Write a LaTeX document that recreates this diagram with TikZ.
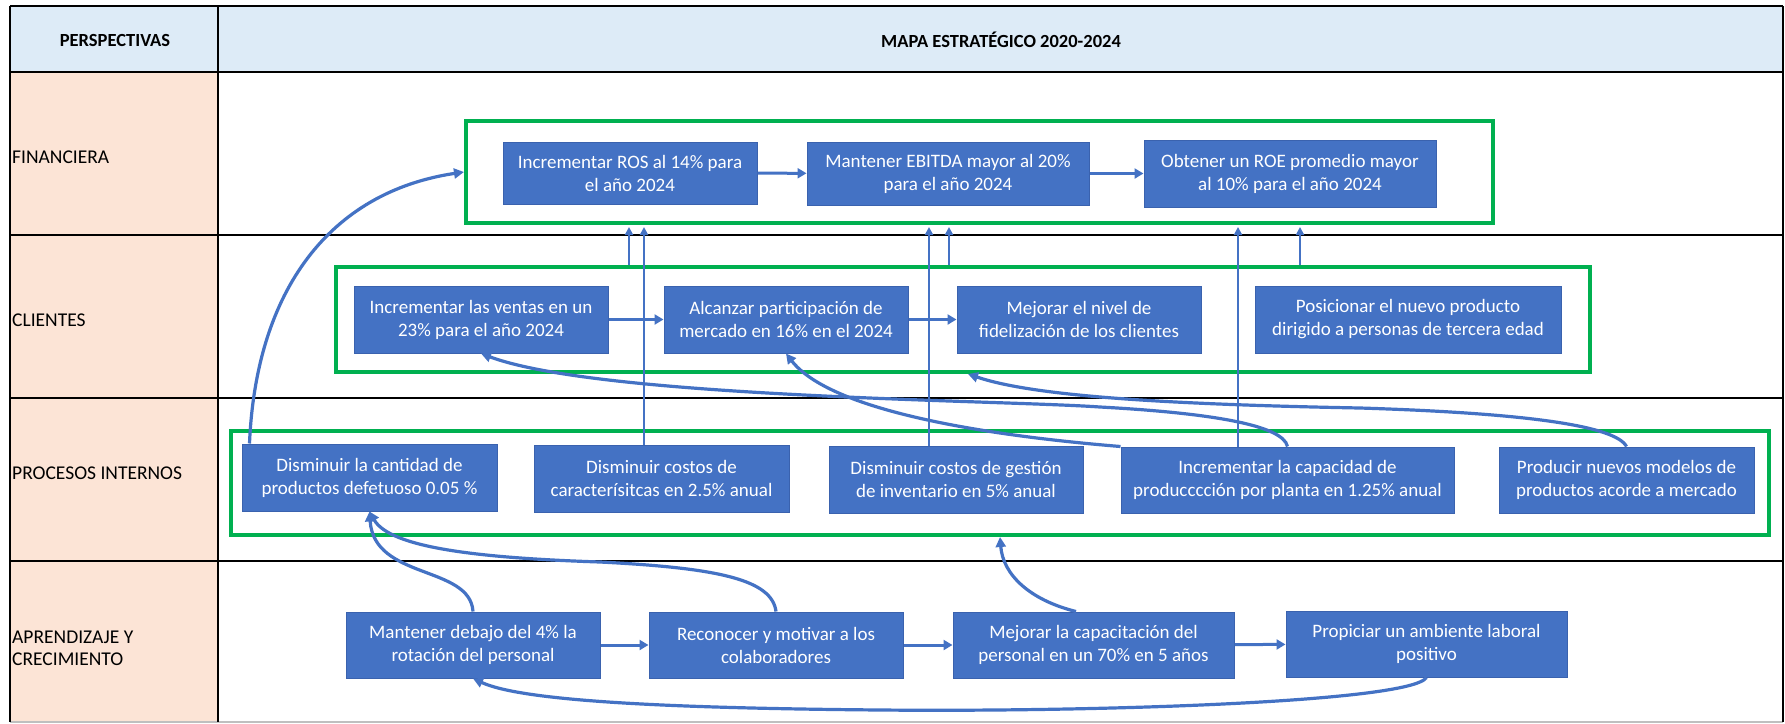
\documentclass[tikz,border=0pt]{standalone}
\usepackage{fontspec}
\setmainfont{Carlito}
\usetikzlibrary{arrows.meta,calc}
\definecolor{hdr}{HTML}{DDEBF7}
\definecolor{lft}{HTML}{FCE4D6}
\definecolor{bfill}{HTML}{4472C4}
\definecolor{bdraw}{HTML}{3A62AE}
\definecolor{grn}{HTML}{00B050}
\definecolor{ln}{HTML}{4472C4}
\begin{document}
\begin{tikzpicture}[x=1pt,y=-1pt,
  box/.style={draw=bdraw, line width=1pt, fill=bfill, text=white, align=center, inner sep=0pt, font=\fontsize{19}{23}\selectfont},
  cluster/.style={draw=grn, line width=4pt, inner sep=0pt},
  lab/.style={anchor=west, align=left, font=\fontsize{19.5}{22}\selectfont, inner sep=0pt},
  hd/.style={font=\bfseries\fontsize{18.5}{22}\selectfont, inner sep=0pt},
  arr/.style={draw=ln, line width=3.2pt, -{Triangle[length=10pt,width=10pt]}},
  harr/.style={draw=ln, line width=3pt, -{Triangle[length=9pt,width=10pt]}},
  varr/.style={draw=ln, line width=2.4pt, -{Triangle[length=8pt,width=8pt]}, shorten >=2pt},
  tline/.style={draw=black, line width=2.2pt},
]
\useasboundingbox (0,0) rectangle (1785,723);
% table
\fill[white] (0,0) rectangle (1785,723);
\fill[hdr] (10,6) rectangle (1783,72);
\fill[lft] (10,72) rectangle (218,722);
\draw[tline] (10,6) -- (1783,6);
\draw[tline, line width=2.8pt] (10,72) -- (1783,72);
\draw[tline] (10,235) -- (1783,235);
\draw[tline] (10,398) -- (1783,398);
\draw[tline] (10,561) -- (1783,561);
\draw[draw=black!25, line width=2pt] (10,722) -- (1783,722);
\draw[tline] (10,6) -- (10,722);
\draw[tline] (218,6) -- (218,722);
\draw[tline] (1783,6) -- (1783,722);
% headers and labels
\node[hd] (hP) at (115,40) {PERSPECTIVAS};
\node[hd] (hM) at (1001,40) {MAPA ESTRATÉGICO 2020-2024};
\node[lab] (lF) at (12,157) {FINANCIERA};
\node[lab] (lC) at (12,320) {CLIENTES};
\node[lab] (lP) at (12,473) {PROCESOS INTERNOS};
\node[lab] (lA) at (12,648) {APRENDIZAJE Y\\CRECIMIENTO};
% clusters
\node[cluster, minimum width=1027pt, minimum height=102pt] (finc) at (979.5,172) {};
\node[cluster, minimum width=1254pt, minimum height=105pt] (clic) at (963,319.5) {};
\node[cluster, minimum width=1538pt, minimum height=104pt] (proc) at (1000,483) {};
% financiera
\node[box, minimum width=254pt, minimum height=62pt] (F1) at (630,173) {Incrementar ROS al 14\% para\\el año 2024};
\node[box, minimum width=282pt, minimum height=63pt] (F2) at (948,173.5) {Mantener EBITDA mayor al 20\%\\para el año 2024};
\node[box, minimum width=292pt, minimum height=67pt] (F3) at (1290,173.5) {Obtener un ROE promedio mayor\\al 10\% para el año 2024};
% clientes
\node[box, minimum width=254pt, minimum height=67pt] (C1) at (481,319.5) {Incrementar las ventas en un\\23\% para el año 2024};
\node[box, minimum width=244pt, minimum height=67pt] (C2) at (786,319.5) {Alcanzar participación de\\mercado en 16\% en el 2024};
\node[box, minimum width=244pt, minimum height=67pt] (C3) at (1079,319.5) {Mejorar el nivel de\\fidelización de los clientes};
\node[box, minimum width=306pt, minimum height=67pt] (C4) at (1408,319.5) {Posicionar el nuevo producto\\dirigido a personas de tercera edad};
% procesos
\node[box, minimum width=255pt, minimum height=67pt] (P1) at (369.5,477.5) {Disminuir la cantidad de\\productos defetuoso 0.05 \%};
\node[box, minimum width=255pt, minimum height=67pt] (P2) at (661.5,478.5) {Disminuir costos de\\caracterísitcas en 2.5\% anual};
\node[box, minimum width=254pt, minimum height=67pt] (P3) at (956,479.5) {Disminuir costos de gestión\\de inventario en 5\% anual};
\node[box, minimum width=333pt, minimum height=66pt] (P4) at (1287.5,480) {Incrementar la capacidad de\\producccción por planta en 1.25\% anual};
\node[box, minimum width=255pt, minimum height=66pt] (P5) at (1626.5,480) {Producir nuevos modelos de\\productos acorde a mercado};
% aprendizaje
\node[box, minimum width=254pt, minimum height=66pt] (A1) at (473,645) {Mantener debajo del 4\% la\\rotación del personal};
\node[box, minimum width=254pt, minimum height=66pt] (A2) at (776,645) {Reconocer y motivar a los\\colaboradores};
\node[box, minimum width=281pt, minimum height=66pt] (A3) at (1093.5,645) {Mejorar la capacitación del\\personal en un 70\% en 5 años};
\node[box, minimum width=281pt, minimum height=66pt] (A4) at (1426.5,644) {Propiciar un ambiente laboral\\positivo};
% horizontal arrows
\draw[harr] (F1) -- (F2);
\draw[harr] (F2) -- (F3);
\draw[harr] (C1) -- (C2);
\draw[harr] (C2) -- (C3);
\draw[harr] (A1) -- (A2);
\draw[harr] (A2) -- (A3);
\draw[harr] (A3) -- (A4);
% vertical arrows to financiera cluster
\path (clic.north) ++(-334,0) coordinate (v1);
\path (P2.north) ++(-17.5,0) coordinate (v2);
\path (P3.north) ++(-27,0) coordinate (v3);
\path (clic.north) ++(-14,0) coordinate (v4);
\path (P4.north) ++(-49.5,0) coordinate (v5);
\path (clic.north) ++(337,0) coordinate (v6);
\draw[varr] (v1) -- (v1 |- finc.south);
\draw[varr] (v2) -- (v2 |- finc.south);
\draw[varr] (v3) -- (v3 |- finc.south);
\draw[varr] (v4) -- (v4 |- finc.south);
\draw[varr] (v5) -- (v5 |- finc.south);
\draw[varr] (v6) -- (v6 |- finc.south);
% curved connectors
\path (P1.north west) ++(8,0) coordinate (p1s);
\draw[arr] (p1s) .. controls (256,290) and (330,192) .. (finc.west);
\draw[arr] (P4.north) .. controls (1283,425) and (1210,413) .. (1100,407) .. controls (1000,400) and (600,398) .. (C1.south);
\draw[arr] (P4.north west) .. controls (980,435) and (830,410) .. (C2.south);
\path (clic.south) ++(5,0) coordinate (c3e);
\draw[arr] (P5.north) .. controls (1615,425) and (1520,413) .. (1360,408) .. controls (1150,404) and (1030,395) .. (c3e);
\draw[arr] (A1.north) .. controls (470,565) and (374,580) .. (P1.south);
\draw[arr] (A2.north) .. controls (772,580) and (720,568) .. (600,562) .. controls (480,558) and (390,548) .. (P1.south);
\path (A3.north) ++(-17.5,0) coordinate (a3s);
\draw[arr] (a3s) .. controls (1030,600) and (1003,575) .. (proc.south);
\draw[arr] (A4.south) .. controls (1410,702) and (1100,712) .. (880,710) .. controls (650,708) and (520,700) .. (A1.south);
\end{tikzpicture}
\end{document}
